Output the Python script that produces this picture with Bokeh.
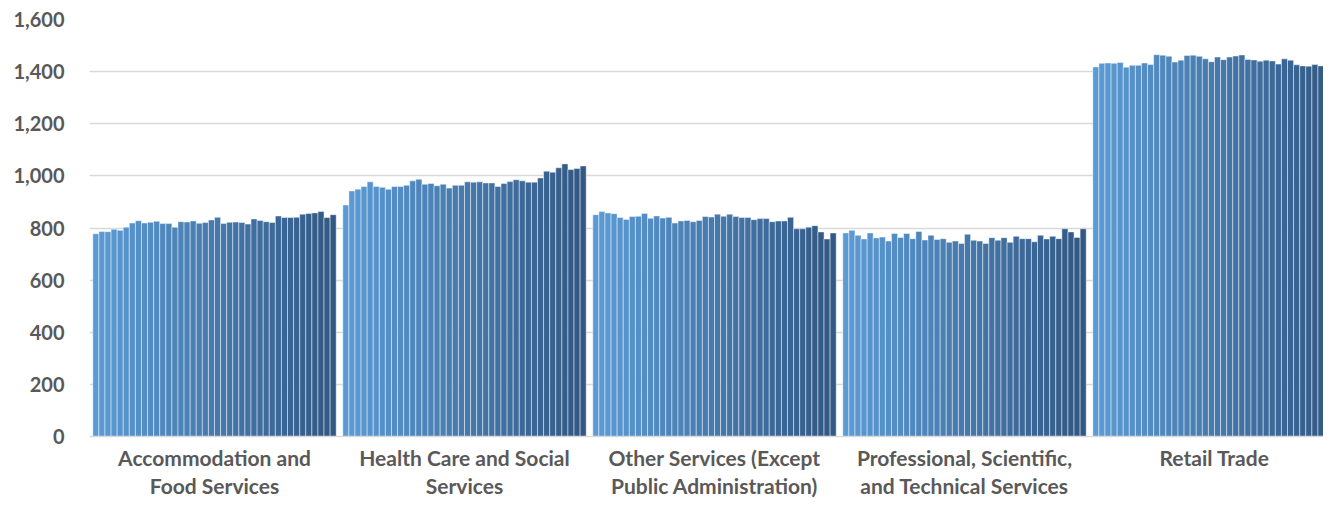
from bokeh.plotting import figure
from bokeh.models import ColumnDataSource, FixedTicker, NumeralTickFormatter, Range1d
from bokeh.embed import file_html
from bokeh.resources import INLINE

categories = [
    "Accommodation and\nFood Services",
    "Health Care and Social\nServices",
    "Other Services (Except\nPublic Administration)",
    "Professional, Scientific,\nand Technical Services",
    "Retail Trade",
]

accommodation = [778, 787, 786, 795, 791, 803, 819, 828, 819, 822,
                 826, 817, 817, 803, 824, 823, 827, 818, 821, 831,
                 841, 817, 822, 823, 821, 815, 835, 829, 824, 821,
                 846, 840, 840, 841, 853, 856, 858, 863, 840, 851]
health = [888, 942, 949, 959, 977, 959, 956, 949, 959, 959,
          964, 981, 987, 968, 971, 962, 968, 953, 964, 964,
          977, 976, 977, 973, 973, 959, 971, 978, 985, 981,
          976, 976, 992, 1018, 1014, 1031, 1046, 1024, 1028, 1038]
other = [851, 863, 858, 855, 840, 833, 844, 845, 856, 837,
         846, 838, 841, 819, 827, 829, 824, 829, 844, 842,
         853, 845, 853, 844, 840, 840, 832, 836, 836, 824,
         827, 827, 841, 797, 797, 803, 809, 785, 758, 781]
professional = [781, 791, 772, 758, 781, 762, 765, 750, 779, 764,
                779, 759, 787, 754, 772, 756, 759, 745, 750, 741,
                776, 753, 750, 741, 763, 753, 763, 745, 768, 759,
                759, 747, 772, 758, 768, 759, 797, 785, 764, 797]
retail = [1418, 1432, 1433, 1432, 1435, 1417, 1424, 1424, 1433, 1427,
          1465, 1463, 1459, 1437, 1444, 1462, 1463, 1459, 1449, 1438,
          1456, 1446, 1456, 1460, 1464, 1447, 1445, 1440, 1444, 1441,
          1429, 1449, 1444, 1426, 1422, 1421, 1427, 1422, 1413, 1438]

series = [accommodation, health, other, professional, retail]
y_ticks = [0, 200, 400, 600, 800, 1000, 1200, 1400, 1600]

# colour ramp across the 40 series (light -> dark blue)
c0 = (91, 155, 213)
c1 = (50, 88, 132)
n = len(accommodation)
palette = []
for j in range(n):
    t = j / (n - 1)
    r, g, b = (round(c0[k] + (c1[k] - c0[k]) * t) for k in range(3))
    palette.append("#%02x%02x%02x" % (r, g, b))

pad = 0.0132
w = (1 - 2 * pad) / n
xs, tops, cols = [], [], []
for i, vals in enumerate(series):
    for j, v in enumerate(vals):
        xs.append(i + pad + (j + 0.5) * w)
        tops.append(v)
        cols.append(palette[j])

src = ColumnDataSource(dict(x=xs, top=tops, color=cols))

W, H = 1323, 501
left, top_b, bottom_b = 89, 19, 65
x_end = (W - left) / 250.0

p = figure(width=W, height=H, output_backend="svg", toolbar_location=None,
           x_range=Range1d(0, x_end), y_range=Range1d(0, 1600),
           min_border_left=left, min_border_right=0, min_border_top=top_b,
           min_border_bottom=bottom_b)
p.outline_line_color = None
p.background_fill_color = "white"

p.vbar(x="x", top="top", width=w, bottom=0, source=src, fill_color="color",
       line_color="white", line_alpha=0.45, line_width=1)

font = "Lato"
p.yaxis.ticker = FixedTicker(ticks=y_ticks)
p.yaxis.formatter = NumeralTickFormatter(format="0,0")
p.yaxis.axis_line_color = None
p.yaxis.major_tick_line_color = None
p.yaxis.minor_tick_line_color = None
p.yaxis.major_tick_out = 0
p.yaxis.major_tick_in = 0
p.yaxis.minor_tick_out = 0
p.yaxis.major_label_standoff = 25
p.yaxis.major_label_text_font = font
p.yaxis.major_label_text_font_style = "bold"
p.yaxis.major_label_text_font_size = "20px"
p.yaxis.major_label_text_color = "#595959"

p.xaxis.ticker = FixedTicker(ticks=[i + 0.5 for i in range(len(categories))])
p.xaxis.major_label_overrides = {i + 0.5: c for i, c in enumerate(categories)}
p.xaxis.axis_line_color = "#d9d9d9"
p.xaxis.axis_line_width = 1.5
p.xaxis.major_tick_line_color = None
p.xaxis.minor_tick_line_color = None
p.xaxis.major_tick_out = 0
p.xaxis.major_tick_in = 0
p.xaxis.minor_tick_out = 0
p.xaxis.major_label_standoff = 8
p.xaxis.major_label_text_font = font
p.xaxis.major_label_text_font_style = "bold"
p.xaxis.major_label_text_font_size = "21px"
p.xaxis.major_label_text_color = "#595959"
p.xaxis.major_label_text_line_height = 1.15

p.xgrid.grid_line_color = None
p.ygrid.ticker = FixedTicker(ticks=y_ticks)
p.ygrid.grid_line_color = "#d9d9d9"
p.ygrid.grid_line_width = 1.5

open("out.html", "w").write(file_html(p, INLINE))
